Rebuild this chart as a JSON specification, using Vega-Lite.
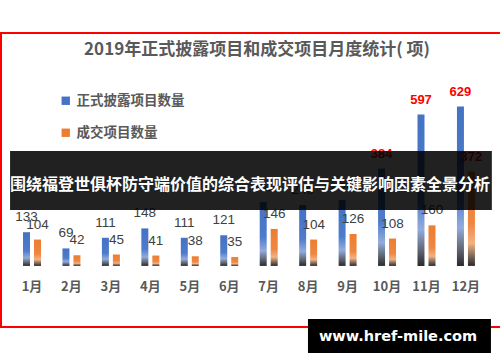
{
  "$schema": "https://vega.github.io/schema/vega-lite/v6.json",
  "width": 499,
  "height": 294,
  "autosize": {"type": "none"},
  "padding": {"left": 1, "top": 33, "right": 0, "bottom": 35},
  "background": "#FFFFFF",
  "config": {
    "view": {"stroke": "#FF0000", "strokeWidth": 2, "strokeDash": [499, 294, 793]},
    "font": "Noto Sans CJK SC"
  },
  "datasets": {
    "bars": [
      {"month": "1月", "series": "正式披露项目数量", "value": 133},
      {"month": "2月", "series": "正式披露项目数量", "value": 69},
      {"month": "3月", "series": "正式披露项目数量", "value": 111},
      {"month": "4月", "series": "正式披露项目数量", "value": 148},
      {"month": "5月", "series": "正式披露项目数量", "value": 111},
      {"month": "6月", "series": "正式披露项目数量", "value": 121},
      {"month": "7月", "series": "正式披露项目数量", "value": 252},
      {"month": "8月", "series": "正式披露项目数量", "value": 240},
      {"month": "9月", "series": "正式披露项目数量", "value": 260},
      {"month": "10月", "series": "正式披露项目数量", "value": 384},
      {"month": "11月", "series": "正式披露项目数量", "value": 597},
      {"month": "12月", "series": "正式披露项目数量", "value": 629},
      {"month": "1月", "series": "成交项目数量", "value": 104},
      {"month": "2月", "series": "成交项目数量", "value": 42},
      {"month": "3月", "series": "成交项目数量", "value": 45},
      {"month": "4月", "series": "成交项目数量", "value": 41},
      {"month": "5月", "series": "成交项目数量", "value": 38},
      {"month": "6月", "series": "成交项目数量", "value": 35},
      {"month": "7月", "series": "成交项目数量", "value": 146},
      {"month": "8月", "series": "成交项目数量", "value": 104},
      {"month": "9月", "series": "成交项目数量", "value": 126},
      {"month": "10月", "series": "成交项目数量", "value": 108},
      {"month": "11月", "series": "成交项目数量", "value": 160},
      {"month": "12月", "series": "成交项目数量", "value": 372}
    ],
    "heading": [{"text": "2019年正式披露项目和成交项目月度统计( 项)"}],
    "banner": [{"text": "围绕福登世俱杯防守端价值的综合表现评估与关键影响因素全景分析"}],
    "site": [{"text": "www.href-mile.com"}]
  },
  "encoding": {
    "x": {
      "field": "month",
      "type": "nominal",
      "sort": ["1月","2月","3月","4月","5月","6月","7月","8月","9月","10月","11月","12月"],
      "scale": {"paddingInner": 0.544, "paddingOuter": 0.5965, "align": 0.4675},
      "axis": {
        "orient": "bottom",
        "offset": -61,
        "title": null,
        "domain": false,
        "ticks": false,
        "tickSize": 0,
        "labelPadding": 14,
        "labelAngle": 0,
        "labelFontSize": 13,
        "labelFontWeight": "bold",
        "labelColor": "#595959",
        "labelFont": "Noto Sans CJK SC"
      }
    }
  },
  "layer": [
    {
      "data": {"name": "bars"},
      "mark": {"type": "square", "size": 0, "opacity": 1, "filled": true},
      "encoding": {
        "y": {"field": "value", "type": "quantitative", "scale": {"domain": [-241, 919], "nice": false, "zero": false}, "axis": null},
        "color": {
          "field": "series",
          "type": "nominal",
          "scale": {"domain": ["正式披露项目数量", "成交项目数量"], "range": ["#4472C4", "#ED7D31"]},
          "legend": {
            "orient": "none",
            "legendX": 58,
            "legendY": 61,
            "direction": "vertical",
            "title": null,
            "symbolType": "square",
            "symbolSize": 70,
            "symbolOpacity": 1,
            "symbolStrokeWidth": 0,
            "rowPadding": 17,
            "labelFontSize": 13.5,
            "labelFontWeight": "bold",
            "labelColor": "#595959",
            "labelFont": "Noto Sans CJK SC",
            "labelOffset": 4
          }
        }
      }
    },
    {
      "data": {"name": "heading"},
      "mark": {"type": "text", "color": "#595959", "fontSize": 17, "fontWeight": "bold", "font": "Noto Sans CJK SC", "baseline": "middle", "align": "center"},
      "encoding": {
        "x": {"datum": "7月", "bandPosition": -0.15},
        "y": {"datum": 852},
        "text": {"field": "text", "type": "nominal"}
      }
    },
    {
      "data": {"name": "bars"},
      "transform": [{"filter": "datum.series === '正式披露项目数量'"}],
      "mark": {
        "type": "bar",
        "fill": {"gradient": "linear", "x1": 0, "y1": 0, "x2": 0, "y2": 1,
          "stops": [
            {"offset": 0, "color": "#4472C4"},
            {"offset": 0.55, "color": "#4E7BCB"},
            {"offset": 0.76, "color": "#93ABDC"},
            {"offset": 0.9, "color": "#5F6470"},
            {"offset": 1, "color": "#2A2A2A"}
          ]}
      },
      "encoding": {
        "xOffset": {"field": "series", "type": "nominal", "sort": ["正式披露项目数量", "成交项目数量"], "scale": {"paddingInner": 0.3636, "paddingOuter": 0}},
        "y": {"field": "value", "type": "quantitative"},
        "y2": {"datum": 0}
      }
    },
    {
      "data": {"name": "bars"},
      "transform": [{"filter": "datum.series === '成交项目数量'"}],
      "mark": {
        "type": "bar",
        "fill": {"gradient": "linear", "x1": 0, "y1": 0, "x2": 0, "y2": 1,
          "stops": [
            {"offset": 0, "color": "#ED7D31"},
            {"offset": 0.55, "color": "#EE8743"},
            {"offset": 0.76, "color": "#F4B183"},
            {"offset": 0.9, "color": "#7A6558"},
            {"offset": 1, "color": "#2A2A2A"}
          ]}
      },
      "encoding": {
        "xOffset": {"field": "series", "type": "nominal", "sort": ["正式披露项目数量", "成交项目数量"]},
        "y": {"field": "value", "type": "quantitative"},
        "y2": {"datum": 0}
      }
    },
    {
      "mark": {"type": "rule", "color": "#D9D9D9", "strokeWidth": 2},
      "encoding": {
        "x": {"datum": "1月", "bandPosition": -0.61},
        "x2": {"datum": "12月", "bandPosition": 1.67},
        "y": {"datum": 0}
      }
    },
    {
      "data": {"name": "bars"},
      "transform": [{"filter": "datum.value <= 300"}],
      "mark": {"type": "text", "baseline": "middle", "dy": -15, "fontSize": 13.5, "font": "Liberation Sans", "color": "#404040"},
      "encoding": {
        "xOffset": {"field": "series", "type": "nominal", "sort": ["正式披露项目数量", "成交项目数量"]},
        "y": {"field": "value", "type": "quantitative"},
        "text": {"field": "value", "type": "quantitative"}
      }
    },
    {
      "data": {"name": "bars"},
      "transform": [{"filter": "datum.value > 300"}],
      "mark": {"type": "text", "baseline": "middle", "dy": -15, "fontSize": 13, "fontWeight": "bold", "font": "Liberation Sans", "color": "#FF0000"},
      "encoding": {
        "xOffset": {"field": "series", "type": "nominal", "sort": ["正式披露项目数量", "成交项目数量"]},
        "y": {"field": "value", "type": "quantitative"},
        "text": {"field": "value", "type": "quantitative"}
      }
    },
    {
      "data": {"name": "banner"},
      "mark": {"type": "rect", "color": "#000000", "opacity": 0.87},
      "encoding": {
        "x": {"datum": "1月", "bandPosition": -0.72},
        "x2": {"datum": "12月", "bandPosition": 1.94},
        "y": {"datum": 453},
        "y2": {"datum": 221}
      }
    },
    {
      "data": {"name": "banner"},
      "mark": {"type": "text", "color": "#FFFFFF", "fontSize": 16, "fontWeight": "bold", "font": "Noto Sans CJK SC", "baseline": "middle", "align": "center"},
      "encoding": {
        "x": {"datum": "7月", "bandPosition": -0.54},
        "y": {"datum": 319},
        "text": {"field": "text", "type": "nominal"}
      }
    },
    {
      "data": {"name": "site"},
      "mark": {"type": "rect", "color": "#000000"},
      "encoding": {
        "x": {"datum": "8月", "bandPosition": 0.49},
        "x2": {"datum": "12月", "bandPosition": 1.89},
        "y": {"datum": -209},
        "y2": {"datum": -344}
      }
    },
    {
      "data": {"name": "site"},
      "mark": {"type": "text", "color": "#FFFFFF", "fontSize": 14.5, "fontWeight": "bold", "font": "DejaVu Sans", "baseline": "middle", "align": "center"},
      "encoding": {
        "x": {"datum": "10月", "bandPosition": 1.11},
        "y": {"datum": -280},
        "text": {"field": "text", "type": "nominal"}
      }
    }
  ]
}
